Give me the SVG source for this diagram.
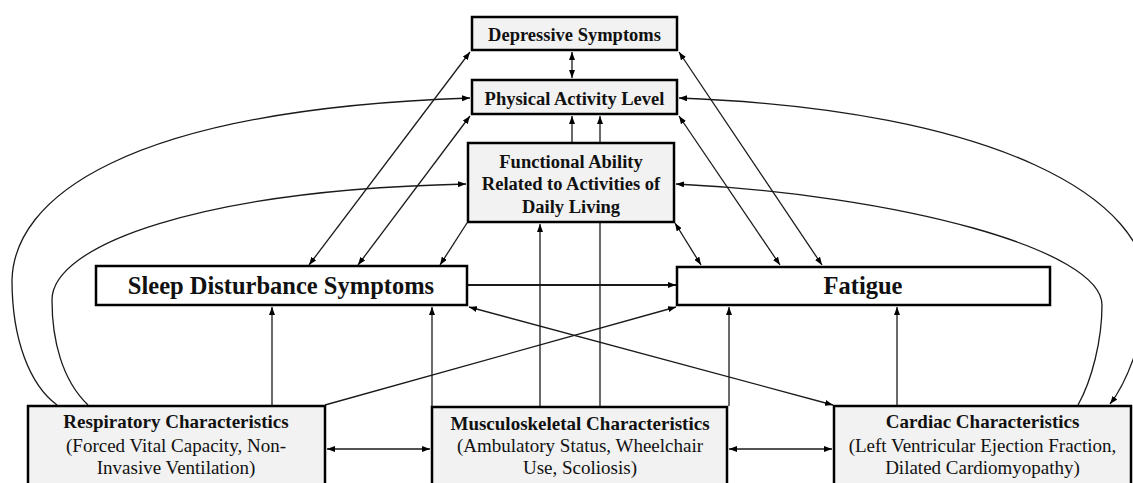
<svg xmlns="http://www.w3.org/2000/svg" width="1133" height="483" viewBox="0 0 1133 483">
<style>
.box{fill:#f2f2f2;stroke:#000;stroke-width:2.5}
.wbox{fill:#fff;stroke:#000;stroke-width:2.5}
.c{fill:none;stroke:#1a1a1a;stroke-width:1.3}
.c2{fill:none;stroke:#1a1a1a;stroke-width:2}
.b{marker-start:url(#ah);marker-end:url(#ah)}
.e{marker-end:url(#ah)}
text{font-family:"Liberation Serif","Times New Roman",serif;fill:#111;text-anchor:middle}
.t1{font-size:18.5px;font-weight:bold}
.t2{font-size:24.5px;font-weight:bold}
.t3{font-size:19px;font-weight:bold}
.t4{font-size:19px}
</style>
<defs>
<marker id="ah" viewBox="0 0 8 6" refX="8" refY="3" markerWidth="8" markerHeight="6" markerUnits="userSpaceOnUse" orient="auto-start-reverse">
<path d="M0,0 L8,3 L0,6 z" fill="#000"/>
</marker>
</defs>
<g id="connectors">
<path class="c b" d="M572,52 L572,78"/>
<path class="c e" d="M572,143 L572,116"/>
<path class="c e" d="M600,407 L600,116"/>
<path class="c e" d="M540,407 L540,224"/>
<path class="c b" d="M470,52 L309,265"/>
<path class="c b" d="M470,116 L358,265"/>
<path class="c e" d="M467,223 L440,265"/>
<path class="c b" d="M679,52 L822,265"/>
<path class="c b" d="M679,116 L780,265"/>
<path class="c b" d="M675,223 L701,265"/>
<path class="c2 e" d="M468,285 L676,285"/>
<path class="c e" d="M272,405 L272,307"/>
<path class="c e" d="M432,406 L432,307"/>
<path class="c e" d="M325,405 L676,307"/>
<path class="c b" d="M833,405 L469,307"/>
<path class="c e" d="M729,406 L729,307"/>
<path class="c e" d="M897,405 L897,307"/>
<path class="c b" d="M327,449 L430,449"/>
<path class="c b" d="M729,449 L832,449"/>
<path class="c e" d="M57,405 C30,385 12,340 12,280 C14,200 120,110 470,98"/>
<path class="c e" d="M88,405 C62,380 52,340 52,300 C52,245 200,190 466,184"/>
<path class="c b" d="M1110,404 C1125,385 1145,340 1147,290 C1150,200 1000,110 679,98"/>
<path class="c e" d="M1078,405 C1092,380 1102,340 1102,305 C1102,250 900,195 676,184"/>
</g>
<g id="depressive">
<rect class="box" x="472" y="17" width="205" height="33"/>
<text class="t1" x="574.5" y="40.5">Depressive Symptoms</text>
</g>
<g id="physical">
<rect class="box" x="472" y="80" width="205" height="34"/>
<text class="t1" x="574.5" y="104.5">Physical Activity Level</text>
</g>
<g id="functional">
<rect class="box" x="468" y="143" width="206" height="79"/>
<text class="t1" x="571" y="167.5">Functional Ability</text>
<text class="t1" x="571" y="190">Related to Activities of</text>
<text class="t1" x="571" y="212.5">Daily Living</text>
</g>
<g id="sleep">
<rect class="wbox" x="96" y="266" width="371" height="39"/>
<text class="t2" x="281" y="294">Sleep Disturbance Symptoms</text>
</g>
<g id="fatigue">
<rect class="wbox" x="677" y="267" width="373" height="38"/>
<text class="t2" x="863" y="294">Fatigue</text>
</g>
<g id="respiratory">
<rect class="box" x="28" y="406" width="297" height="90"/>
<text class="t3" x="176" y="428">Respiratory Characteristics</text>
<text class="t4" x="176" y="451.5">(Forced Vital Capacity, Non-</text>
<text class="t4" x="176" y="474">Invasive Ventilation)</text>
</g>
<g id="musculoskeletal">
<rect class="box" x="432" y="407" width="295" height="90"/>
<text class="t3" x="580" y="430">Musculoskeletal Characteristics</text>
<text class="t4" x="580" y="452">(Ambulatory Status, Wheelchair</text>
<text class="t4" x="580" y="474">Use, Scoliosis)</text>
</g>
<g id="cardiac">
<rect class="box" x="834" y="406" width="297" height="90"/>
<text class="t3" x="982.5" y="428">Cardiac Characteristics</text>
<text class="t4" x="982.5" y="451.5">(Left Ventricular Ejection Fraction,</text>
<text class="t4" x="982.5" y="474">Dilated Cardiomyopathy)</text>
</g>
</svg>
